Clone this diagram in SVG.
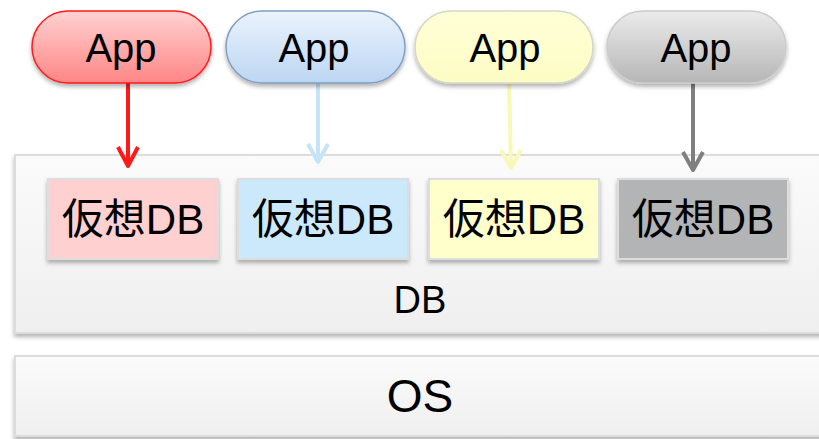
<svg xmlns="http://www.w3.org/2000/svg" width="819" height="439" viewBox="0 0 819 439">
<defs>
  <linearGradient id="gRed" x1="0" y1="0" x2="0" y2="1"><stop offset="0" stop-color="#ffd2d2"/><stop offset="1" stop-color="#ff8585"/></linearGradient>
  <linearGradient id="gBlue" x1="0" y1="0" x2="0" y2="1"><stop offset="0" stop-color="#eaf3fd"/><stop offset="1" stop-color="#bcd6f2"/></linearGradient>
  <linearGradient id="gYellow" x1="0" y1="0" x2="0" y2="1"><stop offset="0" stop-color="#ffffd8"/><stop offset="1" stop-color="#fdfcc4"/></linearGradient>
  <linearGradient id="gGray" x1="0" y1="0" x2="0" y2="1"><stop offset="0" stop-color="#ebebeb"/><stop offset="1" stop-color="#b6b6b6"/></linearGradient>
  <linearGradient id="gLayer" x1="0" y1="0" x2="0" y2="1"><stop offset="0" stop-color="#fbfbfb"/><stop offset="1" stop-color="#efefef"/></linearGradient>
  <filter id="sh" x="-10%" y="-10%" width="120%" height="140%">
    <feDropShadow dx="0" dy="3" stdDeviation="2" flood-color="#000" flood-opacity="0.3"/>
  </filter>
</defs>
<style>
  text { font-family: "Liberation Sans", "Noto Sans CJK JP", sans-serif; fill: #000; text-anchor: middle; }
  .app { font-size: 40px; }
  .vdb { font-size: 42px; }
  .lbl { font-size: 38px; }
  .os { font-size: 46px; }
  .layer { fill: url(#gLayer); stroke: #dcdcdc; stroke-width: 2; filter: url(#sh); }
  .box { stroke: #dddddd; stroke-width: 2; filter: url(#sh); }
  .pill { stroke-width: 1.5; filter: url(#sh); }
  .conn { fill: none; stroke-width: 4; stroke-linejoin: round; }
  .red { stroke: #ff1a1a; }
  .blue { stroke: #c6e4f8; }
  .yellow { stroke: #f8f8b8; }
  .gray { stroke: #7f7f7f; }
</style>

<g id="os">
  <rect class="layer" x="15" y="356" width="812" height="80"/>
  <text class="os" x="420" y="412">OS</text>
</g>

<g id="db">
  <rect class="layer" x="15" y="155" width="812" height="178"/>
  <text class="lbl" x="420" y="313">DB</text>
</g>

<g id="vdb1"><rect class="box" x="48" y="179" width="170" height="80" fill="#ffd0d0"/><text class="vdb" x="133" y="234">仮想DB</text></g>
<g id="vdb2"><rect class="box" x="238" y="179" width="170" height="80" fill="#cce9fb"/><text class="vdb" x="323" y="234">仮想DB</text></g>
<g id="vdb3"><rect class="box" x="429" y="179" width="170" height="80" fill="#ffffcc"/><text class="vdb" x="514" y="234">仮想DB</text></g>
<g id="vdb4"><rect class="box" x="618" y="179" width="170" height="80" fill="#b2b4b6"/><text class="vdb" x="703" y="234">仮想DB</text></g>

<g id="connectors">
  <path class="conn red" d="M128 78 V166 M118 147 L128 166 L138 147"/>
  <path class="conn blue" d="M318 80 V162 M308 144 L318 162 L328 144"/>
  <path class="conn yellow" d="M509 76 L511 168 M501 150 L511 168 L521 150"/>
  <path class="conn gray" d="M693 79 V170 M683 152 L693 170 L703 152"/>
</g>

<g id="app1"><rect class="pill" x="32" y="11" width="179" height="72" rx="36" fill="url(#gRed)" stroke="#ff1a1a"/><text class="app" x="121" y="62">App</text></g>
<g id="app2"><rect class="pill" x="226" y="11" width="179" height="72" rx="36" fill="url(#gBlue)" stroke="#7f9fc2"/><text class="app" x="314" y="62">App</text></g>
<g id="app3"><rect class="pill" x="415" y="11" width="178" height="72" rx="36" fill="url(#gYellow)" stroke="#d6d6c8"/><text class="app" x="505" y="62">App</text></g>
<g id="app4"><rect class="pill" x="607" y="11" width="179" height="72" rx="36" fill="url(#gGray)" stroke="#cccccc"/><text class="app" x="696" y="62">App</text></g>
</svg>
